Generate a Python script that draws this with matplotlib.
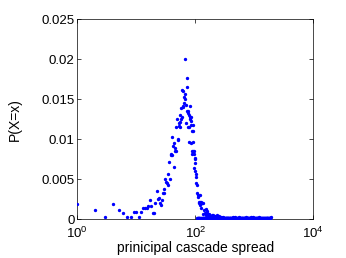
import matplotlib
matplotlib.use("Agg")
import matplotlib.pyplot as plt

plt.rcParams['font.family'] = ['Liberation Sans', 'DejaVu Sans']
plt.rcParams['mathtext.default'] = 'regular'

# cascade size and its probability
spread = [1, 2, 3, 4, 5, 6, 7, 8, 9, 10, 11, 12, 13, 14, 15, 16, 17, 18, 19, 20,
          21, 22, 23, 24, 25, 26, 27, 28, 29, 30, 31, 32, 33, 34, 35, 36, 37, 38, 39, 40,
          41, 42, 43, 44, 45, 46, 47, 48, 49, 50, 51, 52, 53, 54, 55, 56, 57, 58, 59, 60,
          61, 62, 63, 64, 65, 66, 67, 68, 69, 70, 71, 72, 73, 74, 75, 76, 77, 78, 79, 80,
          81, 82, 83, 84, 85, 86, 87, 88, 89, 90, 91, 92, 93, 94, 95, 96, 97, 98, 99, 100,
          101, 102, 104, 106, 108, 110, 112, 114, 116, 118, 120, 122, 124, 126, 128, 131,
          134, 136, 140, 145, 149, 150, 155, 159, 165, 170, 176, 182, 190, 200, 215, 230,
          250, 275, 300]
prob = [0.0019, 0.0012, 0.0003, 0.0019, 0.0012, 0.0008, 0.0003, 0.0003, 0.0009, 0.0009,
        0.0003, 0.0009, 0.0014, 0.0014, 0.0014, 0.0017, 0.0024, 0.0017, 0.0008, 0.0008,
        0.0020, 0.0035, 0.0025, 0.0027, 0.0021, 0.0018, 0.0024, 0.0033, 0.0033, 0.0038,
        0.0051, 0.0047, 0.0046, 0.0057, 0.0043, 0.0072, 0.0051, 0.0080, 0.0082, 0.0080,
        0.0103, 0.0092, 0.0095, 0.0065, 0.0089, 0.0086, 0.0085, 0.0116, 0.0126, 0.0099,
        0.0101, 0.0117, 0.0120, 0.0122, 0.0116, 0.0130, 0.0126, 0.0139, 0.0162, 0.0128,
        0.0140, 0.0161, 0.0142, 0.0153, 0.0145, 0.0201, 0.0157, 0.0151, 0.0143, 0.0120,
        0.0165, 0.0177, 0.0135, 0.0116, 0.0135, 0.0133, 0.0116, 0.0131, 0.0097, 0.0128,
        0.0142, 0.0125, 0.0128, 0.0123, 0.0095, 0.0118, 0.0110, 0.0085, 0.0082, 0.0097,
        0.0110, 0.0118, 0.0085, 0.0064, 0.0085, 0.0082, 0.0077, 0.0070, 0.0061, 0.0075,
        0.0057, 0.0053, 0.0045, 0.0043, 0.0033, 0.0031, 0.0028, 0.0022, 0.0020, 0.0018,
        0.0022, 0.0030, 0.0022, 0.0014, 0.0020, 0.0020, 0.0021, 0.0007, 0.0012, 0.0008,
        0.0013, 0.0006, 0.0008, 0.0010, 0.0005, 0.0007, 0.0004, 0.0003, 0.0006, 0.0005,
        0.0004, 0.0006, 0.0004, 0.0003, 0.0003]

# long tail of rare large cascades: a handful seen a few times ...
tail_hi_spread = [430, 465, 544, 713, 866, 950, 1210, 1900]
tail_hi_prob = [0.0003, 0.0003, 0.0003, 0.0003, 0.0003, 0.0003, 0.0003, 0.0003]

# ... and most seen only once
tail_lo_spread = [105, 109, 112, 115, 117, 121, 125, 130, 133, 135, 138, 142, 145, 147,
                  151, 153, 156, 158, 163, 168, 171, 174, 177, 180, 186, 190, 193, 199,
                  205, 208, 212, 216, 220, 227, 231, 235, 242, 246, 250, 255, 260, 265,
                  270, 275, 280, 285, 290, 295, 300, 305, 310, 315, 320, 325, 330, 335,
                  340, 345, 350, 355, 360, 365, 370, 376, 382, 388, 395, 401, 408, 414,
                  420, 425, 435, 440, 445, 450, 458, 472, 480, 490, 500, 510, 520, 530,
                  552, 560, 567, 575, 582, 590, 600, 610, 620, 630, 640, 650, 660, 670,
                  680, 690, 700, 724, 735, 748, 760, 772, 785, 797, 810, 825, 840, 853,
                  878, 890, 905, 920, 935, 965, 980, 995, 1010, 1030, 1050, 1070, 1090,
                  1110, 1130, 1150, 1170, 1190, 1235, 1260, 1285, 1310, 1335, 1360, 1385,
                  1410, 1435, 1460, 1490, 1520, 1550, 1580, 1610, 1640, 1670, 1700, 1730,
                  1760, 1790, 1820, 1850, 1880]
tail_lo_prob = [0.00015] * len(tail_lo_spread)

fig = plt.figure(figsize=(3.46, 2.58), dpi=100)
ax = fig.add_axes([0.2234, 0.15, 0.6821, 0.775])

ax.plot(spread, prob, '.', color='blue', markersize=2.8, zorder=3)
ax.plot(tail_hi_spread, tail_hi_prob, '.', color='blue', markersize=2.8, zorder=3)
ax.plot(tail_lo_spread, tail_lo_prob, '.', color='blue', markersize=3, zorder=3)

ax.set_xscale('log')
ax.set_xlim(1, 1e4)
ax.set_ylim(0, 0.025)
ax.set_xticks([1, 100, 10000])
ax.set_xticklabels(['$10^0$', '$10^2$', '$10^4$'])
ax.minorticks_off()
ax.set_yticks([0, 0.005, 0.01, 0.015, 0.02, 0.025])
ax.set_yticklabels(['0', '0.005', '0.01', '0.015', '0.02', '0.025'])
ax.tick_params(direction='in', length=3, width=0.5, labelsize=9.5,
               top=True, right=True, pad=2)
ax.tick_params(axis='x', pad=5)
for s in ax.spines.values():
    s.set_linewidth(0.5)

ax.set_xlabel('prinicipal cascade spread', fontsize=10, labelpad=0)
ax.set_ylabel('P(X=x)', fontsize=10, labelpad=14)

fig.savefig('out.png', dpi=100)
